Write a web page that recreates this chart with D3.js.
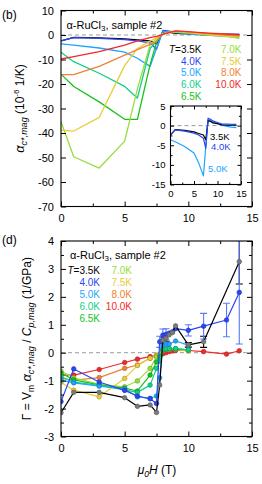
<!DOCTYPE html>
<html><head><meta charset="utf-8">
<script src="https://cdn.jsdelivr.net/npm/d3@7"></script>
<style>
body{margin:0;background:#fff}
svg{display:block}
text{font-family:"Liberation Sans",Arial,Helvetica,sans-serif}
</style>
</head><body>
<svg id="c" width="262" height="484"></svg>
<script>
// ---------- data ----------
const temps = ["3.5K","4.0K","5.0K","6.0K","6.5K","7.0K","7.5K","8.0K","10.0K"];
const colors = ["#000000","#2a46f5","#1ea4ff","#12cf8a","#18c21a","#98dc3c","#e8cc3a","#f08232","#f02a2a"];

// panel (b): alpha_c*,mag (1e-6 1/K)
const fieldsTopA = [0,1,3,5,6,7,7.5,8,8.5,9,10,11,12,13,14];
const fieldsTopB = [0,1,3,5,6,7,7.5,7.75,8,8.5,9,10,11,12,13,14];
const alpha35  = [-2.4,-1.0,-1.2,-1.6,-2.0,-2.4,-3.6,1.3,1.1,0.7,0.5,0.2,0.1,0.1,0.1];
const alpha40  = [-2.4,-1.1,-1.4,-1.9,-2.4,-3.2,-5.8,1.9,1.6,1.2,0.8,0.4,0.4,0.3,0.3];
const alpha50  = [-3.6,-4.1,-5.3,-7.0,-9.5,-12.8,-5.5,1.5,1.3,1.0,0.5,0.1,-0.2,-0.4,-0.5];
const alpha60  = [-7.0,-10.9,-15.6,-21.0,-25.7,-5.5,-2.5,-0.8,0.6,1.2,1.4,1.0,0.5,0.1,-0.3,-0.6];
const alpha65  = [-16.0,-21.0,-27.3,-34.4,-34.4,-12.0,-3.0,-0.8,0.5,1.1,1.3,0.9,0.4,0.0,-0.5,-1.2];
const alpha70  = [-35.4,-49.7,-54.3,-43.3,-22.0,-4.0,-1.5,-0.6,0.5,1.1,1.3,0.9,0.3,-0.2,-0.7,-1.3];
const alpha75  = [-38.8,-39.2,-33.6,-12.5,-5.5,-2.5,-1.2,-0.5,0.6,1.2,1.4,1.0,0.5,0.0,-0.4,-0.8];
const alpha80  = [-16.2,-16.2,-12.8,-8.2,-6.0,-3.8,-2.7,-0.8,0.4,1.2,1.6,1.3,0.8,0.4,0.0,-0.3];
const alpha100 = [-9.8,-8.8,-6.8,-4.1,-2.4,-1.1,-0.6,-0.2,0.3,1.0,1.7,1.4,1.0,0.7,0.4,0.1];

// panel (d): Gruneisen ratio (1/GPa)
const fieldsGamA = [0,1,3,5,6,7,7.5,7.75,8,8.25,8.5,8.75,9,10,11.2,14];
const fieldsGamB = [0,1,3,5,6,7,7.5,7.75,8,8.25,8.5,8.75,9,10,11.2,13,14];
const fieldsGamC = [0,1,3,5,6,7,7.5,7.75,8,8.25,8.5,9,10];
const gam35  = [-2.15,-1.42,-1.42,-1.61,-1.92,-1.87,-2.14,-1.16,0.45,0.52,0.64,0.72,0.96,0.28,0.39,3.26];
const err35  = [0,0,0,0,0,0,0,0,0.11,0.11,0,0,0,0.08,0.2,0.8];
const gam40  = [-1.75,-0.58,-1.05,-1.35,-1.55,-1.65,-1.82,0.39,0.63,0.66,0.70,0.75,0.86,0.80,0.95,1.17,2.16];
const err40  = [0,0,0,0,0,0,0,0.2,0.22,0.2,0,0,0,0.2,0.46,0.6,1.85];
const gam50  = [-0.98,-1.08,-1.2,-1.3,-1.58,-1.63,-1.55,-0.9,0.27,0.3,0.31,0.42,0.27];
const gam60  = [-0.86,-1.05,-1.17,-1.33,-1.42,-1.16,-0.56,-0.3,0.12,0.14,0.15,0.15,0.1];
const gam65  = [-0.73,-0.97,-1.15,-1.27,-1.37,-0.8,-0.33,-0.15,0.1,0.13,0.14,0.14,0.1];
const gam70  = [-0.66,-0.9,-1.13,-1.22,-1.01,-0.56,-0.15,-0.08,0.08,0.12,0.13,0.13,0.1];
const gam75  = [-1.06,-1.34,-1.58,-0.92,-0.46,-0.2,-0.1,-0.05,0.1,0.12,0.12,0.12,0.06];
const gam80  = [-0.92,-0.98,-0.89,-0.56,-0.44,-0.2,-0.12,-0.06,0.1,0.12,0.12,0.12,0.08];
const gam100 = [-0.8,-0.8,-0.6,-0.35,-0.23,-0.14,-0.1,-0.07,-0.04,0.0,0.04,0.06,0.08,0.08,0.04,-0.05,0.07];

const xTicksMain = [0,5,10,15];
const yTicksTop = [10,0,-10,-20,-30,-40,-50,-60,-70];
const yTicksInset = [5,0,-5,-10,-15];
const yTicksBot = [4,3,2,1,0,-1,-2,-3];

// ---------- series assembly ----------
const zip = (f,v,e) => f.map((h,i)=>({h, v:v[i], e: e ? e[i] : 0}));
const topSeries = [
  zip(fieldsTopA,alpha35), zip(fieldsTopA,alpha40), zip(fieldsTopA,alpha50),
  zip(fieldsTopB,alpha60), zip(fieldsTopB,alpha65), zip(fieldsTopB,alpha70),
  zip(fieldsTopB,alpha75), zip(fieldsTopB,alpha80), zip(fieldsTopB,alpha100)
];
const botSeries = [
  zip(fieldsGamA,gam35,err35), zip(fieldsGamB,gam40,err40), zip(fieldsGamC,gam50),
  zip(fieldsGamC,gam60), zip(fieldsGamC,gam65), zip(fieldsGamC,gam70),
  zip(fieldsGamC,gam75), zip(fieldsGamC,gam80), zip(fieldsGamB,gam100)
];

// ---------- drawing ----------
const svg = d3.select("#c");
const xTop = d3.scaleLinear().domain([0,15]).range([61,252]);
const yTop = d3.scaleLinear().domain([-70,10]).range([206.5,10.5]);
const xIn  = d3.scaleLinear().domain([0,15]).range([170.5,241]);
const yIn  = d3.scaleLinear().domain([-15,5]).range([184.5,106]);
const xBot = d3.scaleLinear().domain([0,15]).range([61,252]);
const yBot = d3.scaleLinear().domain([-3,4]).range([436.5,241]);

const fmt = d => String(d);
function axes(g, x, y, o){
  const [xa,xb] = x.range(), [yb,ya] = y.range();
  const clean = s => { s.select(".domain").remove(); s.attr("font-family",null).attr("font-size",o.fs); };
  const lab = (ax, vals, inner, pad, show) => ax.tickValues(vals).tickSizeInner(-inner).tickSizeOuter(0).tickPadding(pad).tickFormat(show ? fmt : "");
  g.append("g").attr("transform",`translate(0,${yb})`).call(lab(d3.axisBottom(x),o.xMaj,o.tl,o.xpad,true)).call(clean);
  g.append("g").attr("transform",`translate(0,${ya})`).call(lab(d3.axisTop(x),o.xMaj,o.tl,0,false)).call(clean);
  g.append("g").attr("transform",`translate(${xa},0)`).call(lab(d3.axisLeft(y),o.yMaj,o.tl,o.ypad,true)).call(clean);
  g.append("g").attr("transform",`translate(${xb},0)`).call(lab(d3.axisRight(y),o.yMaj,o.tl,0,false)).call(clean);
  if (o.xMin){
    g.append("g").attr("transform",`translate(0,${yb})`).call(lab(d3.axisBottom(x),o.xMin,o.ml,0,false)).call(clean);
    g.append("g").attr("transform",`translate(0,${ya})`).call(lab(d3.axisTop(x),o.xMin,o.ml,0,false)).call(clean);
  }
  if (o.yMin){
    g.append("g").attr("transform",`translate(${xa},0)`).call(lab(d3.axisLeft(y),o.yMin,o.ml,0,false)).call(clean);
    g.append("g").attr("transform",`translate(${xb},0)`).call(lab(d3.axisRight(y),o.yMin,o.ml,0,false)).call(clean);
  }
  g.selectAll(".tick line").attr("stroke","#000").attr("stroke-width",1);
  g.selectAll(".tick text").attr("fill","#000");
  g.append("rect").attr("x",xa).attr("y",ya).attr("width",xb-xa).attr("height",yb-ya)
    .attr("fill","none").attr("stroke","#000").attr("stroke-width",1.1);
}
function zeroLine(g,x,y){
  g.append("line").attr("x1",x.range()[0]).attr("x2",x.range()[1]).attr("y1",y(0)).attr("y2",y(0))
    .attr("stroke","#9a9a9a").attr("stroke-width",1).attr("stroke-dasharray","4,3");
}
function clip(id,x,y){
  svg.append("clipPath").attr("id",id).append("rect")
    .attr("x",x.range()[0]).attr("y",y.range()[1])
    .attr("width",x.range()[1]-x.range()[0]).attr("height",y.range()[0]-y.range()[1]);
}

// ===== panel (b) =====
clip("cTop",xTop,yTop);
const gTop = svg.append("g");
zeroLine(gTop,xTop,yTop);
const lineTop = d3.line().x(d=>xTop(d.h)).y(d=>yTop(d.v));
const gTopData = gTop.append("g").attr("clip-path","url(#cTop)");
topSeries.forEach((s,i)=>{
  gTopData.append("path").datum(s).attr("d",lineTop).attr("fill","none")
    .attr("stroke",colors[i]).attr("stroke-width",1.3).attr("stroke-linejoin","round");
});
axes(gTop,xTop,yTop,{xMaj:xTicksMain,xMin:[2.5,7.5,12.5],yMaj:yTicksTop,yMin:null,tl:5,ml:3,fs:11,xpad:8,ypad:7});

// inset
clip("cIn",xIn,yIn);
const gIn = svg.append("g");
gIn.append("rect").attr("x",xIn.range()[0]).attr("y",yIn.range()[1])
  .attr("width",xIn.range()[1]-xIn.range()[0]).attr("height",yIn.range()[0]-yIn.range()[1]).attr("fill","#fff");
zeroLine(gIn,xIn,yIn);
const lineIn = d3.line().x(d=>xIn(d.h)).y(d=>yIn(d.v));
const gInData = gIn.append("g").attr("clip-path","url(#cIn)");
[2,0,1].forEach(i=>{
  gInData.append("path").datum(topSeries[i]).attr("d",lineIn).attr("fill","none")
    .attr("stroke",colors[i]).attr("stroke-width",1.2).attr("stroke-linejoin","round");
});
axes(gIn,xIn,yIn,{xMaj:xTicksMain,xMin:[2.5,7.5,12.5],yMaj:yTicksInset,yMin:[2.5,-2.5,-7.5,-12.5],tl:3.5,ml:2,fs:9.5,xpad:5.5,ypad:5});
[[0,"3.5K",210,140],[1,"4.0K",211,150],[2,"5.0K",208,171.5]].forEach(([i,t,x,y])=>{
  gIn.append("text").attr("x",x).attr("y",y).attr("font-size",9.5).attr("fill",colors[i]).text(t);
});

// ===== panel (d) =====
clip("cBot",xBot,yBot);
const gBot = svg.append("g");
zeroLine(gBot,xBot,yBot);
const lineBot = d3.line().x(d=>xBot(d.h)).y(d=>yBot(d.v));
const gBotData = gBot.append("g").attr("clip-path","url(#cBot)");
const errColors = ["#000","#5a78ff"];
[0,1].forEach(i=>{
  const eg = gBotData.append("g").attr("stroke",errColors[i]).attr("stroke-width",1.1);
  botSeries[i].filter(d=>d.e>0).forEach(d=>{
    const x = xBot(d.h);
    eg.append("line").attr("x1",x).attr("x2",x).attr("y1",yBot(d.v-d.e)).attr("y2",yBot(d.v+d.e));
    eg.append("line").attr("x1",x-3.5).attr("x2",x+3.5).attr("y1",yBot(d.v-d.e)).attr("y2",yBot(d.v-d.e));
    eg.append("line").attr("x1",x-3.5).attr("x2",x+3.5).attr("y1",yBot(d.v+d.e)).attr("y2",yBot(d.v+d.e));
  });
});
const markerFill = ["#7a7a7a"].concat(colors.slice(1));
[8,7,6,5,4,3,2,1,0].forEach(i=>{
  const s = botSeries[i];
  const g = gBotData.append("g");
  g.append("path").datum(s).attr("d",lineBot).attr("fill","none")
    .attr("stroke",colors[i]).attr("stroke-width",1.2).attr("stroke-linejoin","round");
  g.selectAll("circle").data(s).join("circle")
    .attr("cx",d=>xBot(d.h)).attr("cy",d=>yBot(d.v)).attr("r",2.3)
    .attr("fill",markerFill[i]).attr("stroke",d3.color(markerFill[i]).darker(0.9)).attr("stroke-width",0.6);
});
axes(gBot,xBot,yBot,{xMaj:xTicksMain,xMin:[2.5,7.5,12.5],yMaj:yTicksBot,yMin:[3.5,2.5,1.5,0.5,-0.5,-1.5,-2.5],tl:5,ml:3,fs:11,xpad:8,ypad:7});

// ---------- annotations ----------
function sample(x,y){
  const t = svg.append("text").attr("x",x).attr("y",y).attr("font-size",11);
  t.append("tspan").text("α-RuCl");
  t.append("tspan").attr("font-size",8).attr("dy",2.5).text("3");
  t.append("tspan").attr("dy",-2.5).text(", sample #2");
}
sample(66.5,28.5);
sample(70,258.5);

function legend(xl,xr,y0,dy){
  const left=[0,1,2,3,4], right=[5,6,7,8];
  left.forEach((i,k)=>{
    const t = svg.append("text").attr("x",xl).attr("y",y0+k*dy).attr("font-size",10)
      .attr("text-anchor","end").attr("fill",colors[i]);
    if(i===0){ t.append("tspan").attr("font-style","italic").text("T"); t.append("tspan").text("="+temps[i]); }
    else t.text(temps[i]);
  });
  right.forEach((i,k)=>{
    svg.append("text").attr("x",xr).attr("y",y0+k*dy).attr("font-size",10)
      .attr("text-anchor","end").attr("fill",colors[i]).text(temps[i]);
  });
}
legend(201.5,241.5,52.8,11.7);
legend(100,132,273.5,12);

svg.append("text").attr("x",2).attr("y",19).attr("font-size",12).text("(b)");
svg.append("text").attr("x",2).attr("y",244).attr("font-size",12).text("(d)");

// y label top
{
  const t = svg.append("text").attr("transform","translate(24,108.5) rotate(-90)")
    .attr("text-anchor","middle").attr("font-size",12);
  t.append("tspan").attr("font-style","italic").attr("font-size",13).text("α");
  t.append("tspan").attr("font-style","italic").attr("font-size",9).attr("dy",3).text("c*,mag");
  t.append("tspan").attr("dy",-3).text(" (10");
  t.append("tspan").attr("font-size",8).attr("dy",-5).text("-6");
  t.append("tspan").attr("dy",5).text(" 1/K)");
}
// y label bottom
{
  const t = svg.append("text").attr("transform","translate(30.5,338.7) rotate(-90)")
    .attr("text-anchor","middle").attr("font-size",12);
  t.append("tspan").text("Γ = V");
  t.append("tspan").attr("font-size",8.5).attr("dy",3).text("m");
  t.append("tspan").attr("dy",-3).text("  ");
  t.append("tspan").attr("font-style","italic").attr("font-size",13).text("α");
  t.append("tspan").attr("font-style","italic").attr("font-size",9).attr("dy",3).text("c*,mag");
  t.append("tspan").attr("dy",-3).text(" / ");
  t.append("tspan").attr("font-style","italic").text("C");
  t.append("tspan").attr("font-style","italic").attr("font-size",9).attr("dy",3).text("p,mag");
  t.append("tspan").attr("dy",-3).text(" (1/GPa)");
}
// x label
{
  const t = svg.append("text").attr("x",157).attr("y",474).attr("text-anchor","middle").attr("font-size",12);
  t.append("tspan").attr("font-style","italic").text("μ");
  t.append("tspan").attr("font-size",8.5).attr("dy",3).attr("font-style","italic").text("0");
  t.append("tspan").attr("dy",-3).attr("font-style","italic").text("H");
  t.append("tspan").text(" (T)");
}
</script>
</body></html>
